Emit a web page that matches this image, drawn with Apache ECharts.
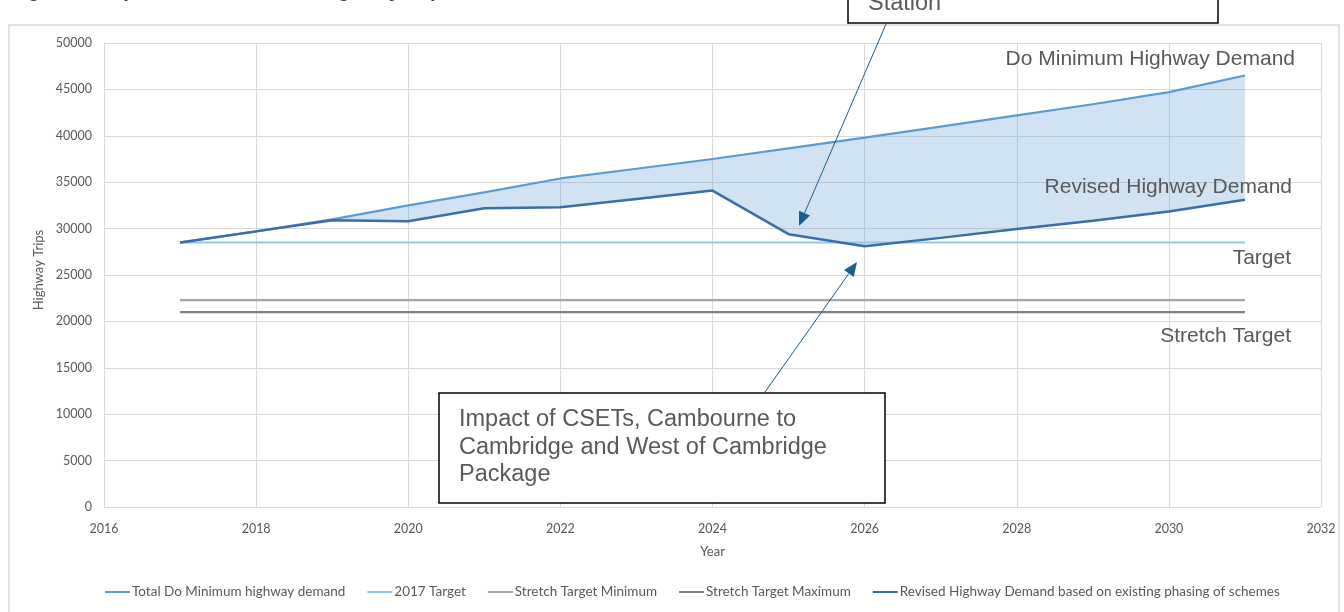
<!DOCTYPE html>
<html><head><meta charset="utf-8">
<script src="https://cdn.jsdelivr.net/npm/echarts@6/dist/echarts.min.js"></script>
<style>html,body{margin:0;padding:0;background:#fff}#c{width:1344px;height:612px}</style>
</head><body><div id="c"></div>
<script>
const years = [2017,2018,2019,2020,2021,2022,2023,2024,2025,2026,2027,2028,2029,2030,2031];
const doMinimum = [28500,29700,31000,32500,33900,35400,36450,37500,38650,39800,41000,42200,43400,44700,46500];
const revised   = [28500,29700,30900,30800,32200,32300,33200,34100,29400,28100,29000,29950,30850,31850,33100];
const target2017 = [28500,28500,28500,28500,28500,28500,28500,28500,28500,28500,28500,28500,28500,28500,28500];
const stretchMin = [22300,22300,22300,22300,22300,22300,22300,22300,22300,22300,22300,22300,22300,22300,22300];
const stretchMax = [21000,21000,21000,21000,21000,21000,21000,21000,21000,21000,21000,21000,21000,21000,21000];
const legendNames = ['Total Do Minimum highway demand','2017 Target','Stretch Target Minimum','Stretch Target Maximum','Revised Highway Demand based on existing phasing of schemes'];

const pair = arr => years.map((y,i)=>[y,arr[i]]);
const bandData = years.map((y,i)=>[y, doMinimum[i], revised[i]]);

const txt = '#595959';
const font = 'Lato, "Open Sans", sans-serif';
const afont = s => s + 'px "Liberation Sans", Arial, sans-serif';

function arrow(x1,y1,x2,y2,color){
  const L=14, W=6;
  const dx=x2-x1, dy=y2-y1, len=Math.hypot(dx,dy), ux=dx/len, uy=dy/len;
  const bx=x2-ux*L, by=y2-uy*L;
  return [
    {type:'line',z:100,shape:{x1:x1,y1:y1,x2:bx,y2:by},style:{stroke:color,lineWidth:1}},
    {type:'polygon',z:100,shape:{points:[[x2,y2],[bx-uy*W,by+ux*W],[bx+uy*W,by-ux*W]]},style:{fill:color}}
  ];
}

const chart = echarts.init(document.getElementById('c'));
const arrowColor = '#1B5E8C';
chart.setOption({
  animation:false,
  backgroundColor:'#fff',
  grid:{left:104,right:23,top:43,bottom:105,containLabel:false},
  xAxis:{type:'value',min:2016,max:2032,interval:2,
    name:'Year',nameLocation:'middle',nameGap:38,
    nameTextStyle:{color:txt,fontSize:13,fontFamily:font},
    axisLine:{show:true,lineStyle:{color:'#D9D9D9'}},axisTick:{show:false},
    axisLabel:{color:txt,fontSize:12.5,fontFamily:font,margin:15,formatter:v=>String(v)},
    splitLine:{show:true,lineStyle:{color:'#D9D9D9',width:1}}},
  yAxis:{type:'value',min:0,max:50000,interval:5000,
    name:'Highway Trips',nameLocation:'middle',nameGap:57,
    nameTextStyle:{color:txt,fontSize:13,fontFamily:font,padding:[0,0,0,10]},
    axisLine:{show:true,lineStyle:{color:'#D9D9D9'}},axisTick:{show:false},
    axisLabel:{color:txt,fontSize:12.5,fontFamily:font,margin:12,formatter:v=>String(v)},
    splitLine:{show:true,lineStyle:{color:'#D9D9D9',width:1}}},
  legend:{bottom:8,left:100,data:legendNames,icon:'rect',itemWidth:25,itemHeight:2,itemGap:22,
    textStyle:{color:txt,fontSize:13.5,fontFamily:font,padding:[0,0,0,-3]}},
  graphic:[
    {type:'rect',z:-10,shape:{x:9,y:25,width:1330,height:600},style:{fill:'none',stroke:'#D9D9D9',lineWidth:1.5}},
    {type:'text',left:10,top:-19,style:{text:'Figure 6: Impact of Schemes on Highway Trips',fill:'#404040',font:'bold '+afont(20)}},
    {type:'rect',z:90,shape:{x:848,y:-30,width:370,height:53},style:{fill:'#fff',stroke:'#000',lineWidth:1.5}},
    {type:'text',z:91,left:868,top:-8.5,style:{text:'Station',fill:txt,font:afont(23.5)}},
    {type:'rect',z:90,shape:{x:439,y:393,width:446,height:110},style:{fill:'#fff',stroke:'#000',lineWidth:1.5}},
    {type:'text',z:91,left:459,top:406,style:{text:'Impact of CSETs, Cambourne to\nCambridge and West of Cambridge\nPackage',fill:txt,lineHeight:27.5,font:afont(23.5)}},
    {type:'text',z:91,right:49,top:48.5,style:{text:'Do Minimum Highway Demand',fill:txt,font:afont(21)}},
    {type:'text',z:91,right:52,top:176.5,style:{text:'Revised Highway Demand',fill:txt,font:afont(21)}},
    {type:'text',z:91,right:53,top:247.5,style:{text:'Target',fill:txt,font:afont(21)}},
    {type:'text',z:91,right:53,top:325.5,style:{text:'Stretch Target',fill:txt,font:afont(21)}},
    ...arrow(886,24,799,226,arrowColor),
    ...arrow(765,392,857,262,arrowColor)
  ],
  series:[
    {name:'band',type:'custom',data:bandData,encode:{x:0,y:[1,2]},silent:true,z:1,
      renderItem:function(params,api){
        if(params.dataIndex!==0) return null;
        const pts=[];
        for(let i=0;i<years.length;i++) pts.push(api.coord([years[i],doMinimum[i]]));
        for(let i=years.length-1;i>=0;i--) pts.push(api.coord([years[i],revised[i]]));
        return {type:'polygon',shape:{points:pts},style:{fill:'rgba(91,155,213,0.28)'}};
      }},
    {name:legendNames[1],type:'line',data:pair(target2017),symbol:'none',lineStyle:{color:'#8ECAE6',width:2},itemStyle:{color:'#8ECAE6'},z:3},
    {name:legendNames[2],type:'line',data:pair(stretchMin),symbol:'none',lineStyle:{color:'#A5A5A5',width:2.25},itemStyle:{color:'#A5A5A5'},z:3},
    {name:legendNames[3],type:'line',data:pair(stretchMax),symbol:'none',lineStyle:{color:'#7F7F7F',width:2.25},itemStyle:{color:'#7F7F7F'},z:3},
    {name:legendNames[0],type:'line',data:pair(doMinimum),symbol:'none',lineStyle:{color:'#5B9BD5',width:2.25},itemStyle:{color:'#5B9BD5'},z:4},
    {name:legendNames[4],type:'line',data:pair(revised),symbol:'none',lineStyle:{color:'#3A6EA5',width:2.5},itemStyle:{color:'#3A6EA5'},z:5}
  ]
});
</script></body></html>
